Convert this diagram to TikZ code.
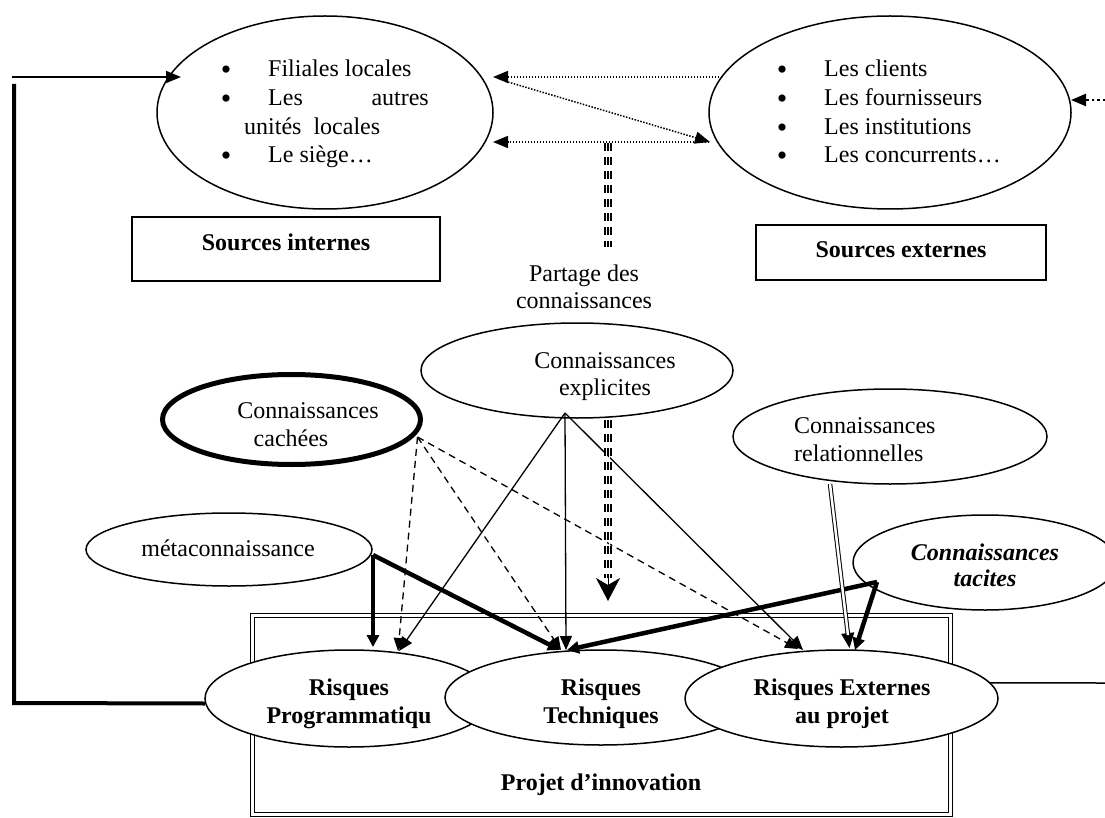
\documentclass[tikz,border=0pt]{standalone}
\usepackage{fontspec}
\setmainfont{Liberation Serif}
\usetikzlibrary{arrows.meta,shapes.geometric}
\begin{document}
\begin{tikzpicture}[x=1pt,y=-1pt,
  every node/.style={font=\fontsize{24}{29}\selectfont},
  ell/.style={draw, ellipse, line width=1.5pt, fill=white, inner sep=0pt, outer sep=0pt},
  srcbox/.style={draw, rectangle, line width=1.5pt, inner sep=0pt, outer sep=0pt},
  txt/.style={anchor=base, inner sep=0pt},
  txtl/.style={anchor=base west, inner sep=0pt},
  txtr/.style={anchor=base east, inner sep=0pt},
  bul/.style={anchor=base, inner sep=0pt, font=\fontsize{30}{30}\selectfont},
  bftxt/.style={anchor=base, inner sep=0pt, font=\fontsize{24}{29}\selectfont\bfseries},
  dotarrow/.style={line width=1.5pt, dash pattern=on 1.5pt off 1.5pt, -{Triangle[length=15pt,width=12pt]}},
  thinarrow/.style={line width=1.3pt, -{Triangle[length=14pt,width=12pt]}},
  dasharrow/.style={line width=1.3pt, dash pattern=on 7pt off 5pt, -{Triangle[length=13pt,width=11pt]}},
  thickarrow/.style={line width=4.5pt, -{Triangle[length=12pt,width=12pt]}},
  dbl/.style={double, double distance=2.5pt, line width=1pt},
  triple/.style={line width=8pt, dash pattern=on 8pt off 6pt},
  whitegap/.style={white, line width=1pt},
]
\useasboundingbox (0,0) rectangle (1105,818);
\clip (0,0) rectangle (1105,818);

% project box
\node[draw, rectangle, double, double distance=3pt, line width=1pt, minimum width=698pt, minimum height=199pt, inner sep=0pt] (proj) at (601.5,715) {};
\node[bftxt] (projt) at (601,790) {Projet d’innovation};

% source ellipses
\node[ell, minimum width=336pt, minimum height=193pt] (int) at (325,112.5) {};
\node[ell, minimum width=362pt, minimum height=193pt] (ext) at (890,112.5) {};

\node[bul] (b1) at (226,80) {•};
\node[txtl] (i1) at (268,77) {Filiales locales};
\node[bul] (b2) at (226,109) {•};
\node[txtl] (i2) at (268,106) {Les};
\node[txtr] (i2b) at (429,106) {autres};
\node[txtl] (i3) at (244,135) {unités\ \ locales};
\node[bul] (b4) at (226,166) {•};
\node[txtl] (i4) at (268,163) {Le siège…};

\node[bul] (c1) at (782,80) {•};
\node[txtl] (e1) at (824,77) {Les clients};
\node[bul] (c2) at (782,109) {•};
\node[txtl] (e2) at (824,106) {Les fournisseurs};
\node[bul] (c3) at (782,138) {•};
\node[txtl] (e3) at (824,135) {Les institutions};
\node[bul] (c4) at (782,166) {•};
\node[txtl] (e4) at (824,163) {Les concurrents…};

% source boxes
\node[srcbox, minimum width=308pt, minimum height=64pt] (sint) at (286,249) {};
\node[bftxt] (sintt) at (286,251) {Sources internes};
\node[srcbox, minimum width=290pt, minimum height=55pt] (sext) at (901,252.5) {};
\node[bftxt] (sextt) at (901,258) {Sources externes};

% partage
\node[txt] (pa1) at (584,281) {Partage des};
\node[txt] (pa2) at (584,308) {connaissances};

% knowledge ellipses
\node[ell, minimum width=312pt, minimum height=95pt] (expl) at (577,370.5) {};
\node[txt] (explt1) at (605,368) {Connaissances};
\node[txt] (explt2) at (605,395) {explicites};

\node[ell, line width=5pt, minimum width=258pt, minimum height=90pt] (cach) at (291.5,419.5) {};
\node[txt] (cacht1) at (308,418) {Connaissances};
\node[txt] (cacht2) at (291,446) {cachées};

\node[ell, minimum width=286pt, minimum height=73pt] (meta) at (229,549.5) {};
\node[txt] (metat) at (228,556) {métaconnaissance};

\node[ell, minimum width=314pt, minimum height=95pt] (rel) at (890,436.5) {};
\node[txtl] (relt1) at (794,433) {Connaissances};
\node[txtl] (relt2) at (794,461) {relationnelles};

\node[ell, minimum width=264pt, minimum height=95pt] (tac) at (985,562.5) {};
\node[anchor=base, inner sep=0pt, font=\fontsize{24}{29}\selectfont\bfseries\itshape] (tact1) at (985,560) {Connaissances};
\node[anchor=base, inner sep=0pt, font=\fontsize{24}{29}\selectfont\bfseries\itshape] (tact2) at (985,586) {tacites};

% risk ellipses
\node[ell, minimum width=288pt, minimum height=97pt] (RP) at (349,698.5) {};
\node[bftxt] (RPt1) at (349,695) {Risques};
\node[bftxt] (RPt2) at (349,723) {Programmatiqu};
\node[ell, minimum width=312pt, minimum height=95pt] (RT) at (601,697.5) {};
\node[bftxt] (RTt1) at (601,695) {Risques};
\node[bftxt] (RTt2) at (601,723) {Techniques};
\node[ell, minimum width=313pt, minimum height=97pt] (RE) at (841.5,698.5) {};
\node[bftxt] (REt1) at (842,695) {Risques Externes};
\node[bftxt] (REt2) at (842,723) {au projet};

% free ends
\coordinate (L1) at (12,77);
\coordinate (L2) at (14,84);
\coordinate (L3) at (14,703);
\coordinate (R1) at (1105,683);
\coordinate (R2) at (1105,100);
\coordinate (P1) at (608,143);
\coordinate (P2) at (608,247);
\coordinate (P4) at (608,578);
\coordinate (P3) at (608,601);

% left frame
\draw[line width=1.5pt, -{Triangle[length=15pt,width=12pt]}] (L1) -- ([xshift=24pt,yshift=35.5pt]int.west);
\draw[line width=4pt] (L2) -- (L3) -- ([yshift=-5pt]RP.west);
% right line
\draw[line width=1.5pt] (RE.6) -- (R1);

% dotted arrows between sources
\draw[dotarrow] ([xshift=13pt,yshift=35.5pt]ext.west) -- ([yshift=35.5pt]int.east);
\draw[dotarrow] ([xshift=15pt,yshift=30.5pt]int.east) -- ([xshift=1pt,yshift=-29.5pt]ext.west);
\draw[dotarrow] ([yshift=-29.5pt]ext.west) -- ([yshift=-29.5pt]int.east);
\draw[line width=2.5pt, dash pattern=on 2.5pt off 3pt, -{Triangle[length=15pt,width=12pt]}] (R2) -- ([yshift=12.5pt]ext.east);

% partage (upper triple line)
\draw[triple] (P1) -- (P2);
\draw[whitegap] ([xshift=-1.6pt]P1) -- ([xshift=-1.6pt]P2);
\draw[whitegap] ([xshift=1.6pt]P1) -- ([xshift=1.6pt]P2);

% hidden knowledge (dashed)
\draw[dasharrow] ([xshift=-3pt,yshift=-17.5pt]cach.east) -- ([xshift=49pt,yshift=-1pt]RP.north);
\draw[dasharrow] ([xshift=-3pt,yshift=-17.5pt]cach.east) -- ([xshift=-40pt]RT.north);
\draw[dasharrow] ([xshift=-3pt,yshift=-17.5pt]cach.east) -- ([xshift=-43.5pt,yshift=1pt]RE.north);

% explicit knowledge (solid thin)
\draw[thinarrow] ([xshift=-12pt,yshift=5pt]expl.south) -- ([xshift=50pt,yshift=-1pt]RP.north);
\draw[thinarrow] ([xshift=-12pt,yshift=5pt]expl.south) -- ([xshift=-35pt]RT.north);
\draw[thinarrow] ([xshift=-12pt,yshift=5pt]expl.south) -- ([xshift=-38.5pt]RE.north);

% explicit knowledge (lower triple arrow)
\draw[triple] ([xshift=31pt,yshift=-2pt]expl.south) -- (P4);
\draw[whitegap] ([xshift=29.4pt,yshift=-2pt]expl.south) -- ([xshift=-1.6pt]P4);
\draw[whitegap] ([xshift=32.6pt,yshift=-2pt]expl.south) -- ([xshift=1.6pt]P4);
\draw[line width=1pt, -{Stealth[length=23pt,width=24pt,inset=7pt]}] ([yshift=2pt]P4) -- (P3);

% metaknowledge (thick)
\draw[thickarrow] ([xshift=1pt,yshift=-5.5pt]meta.east) -- ([xshift=24pt,yshift=3pt]RP.north);
\draw[thickarrow] ([xshift=1pt,yshift=-5.5pt]meta.east) -- ([xshift=-41pt]RT.north);

% tacit knowledge (thick)
\draw[thickarrow] ([xshift=24pt,yshift=-19.5pt]tac.west) -- ([xshift=13.5pt]RE.north);
\draw[thickarrow] ([xshift=24pt,yshift=-19.5pt]tac.west) -- ([xshift=-34pt]RT.north);

% relational knowledge (double line)
\draw[line width=1pt, -{Triangle[length=15pt,width=13pt]}] ([xshift=-60pt]rel.south) -- ([xshift=8pt,yshift=2pt]RE.north);
\draw[dbl, shorten >=13pt] ([xshift=-60pt]rel.south) -- ([xshift=8pt,yshift=2pt]RE.north);
\end{tikzpicture}
\end{document}
